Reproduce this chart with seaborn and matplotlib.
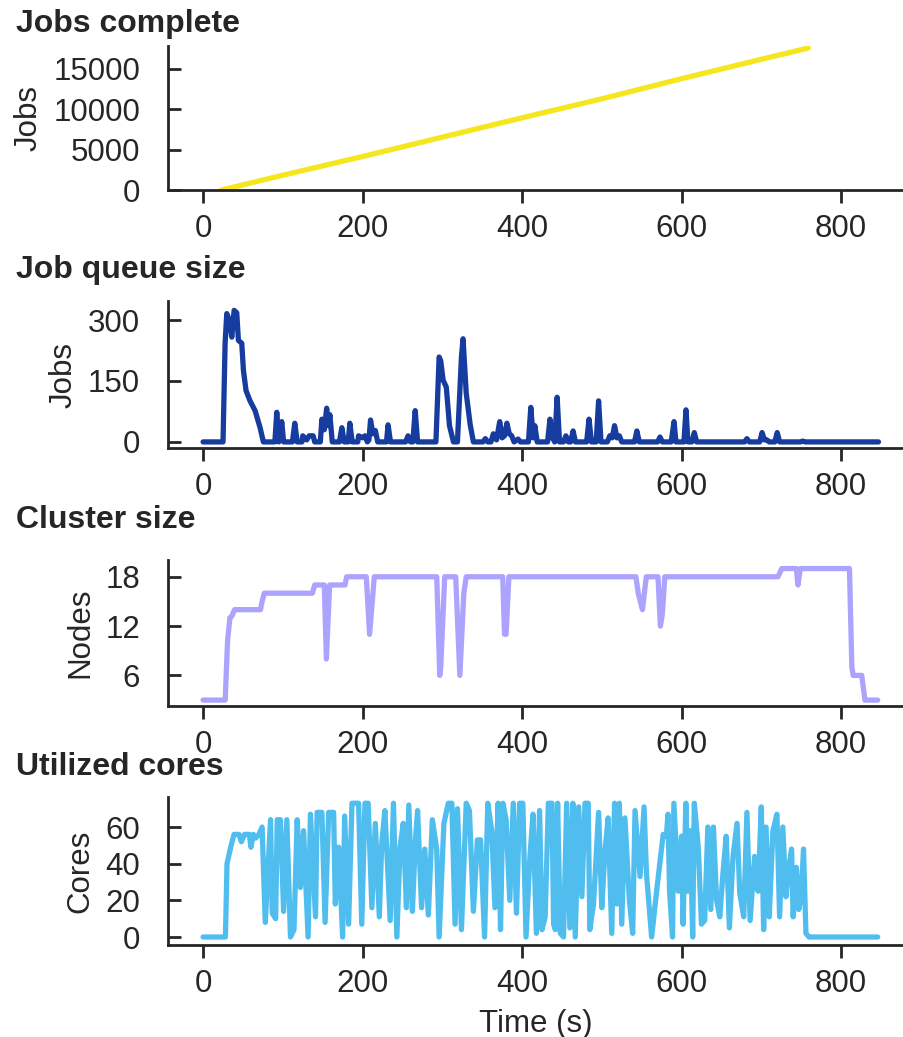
import numpy as np
import pandas as pd
import matplotlib
matplotlib.use("Agg")
import matplotlib.pyplot as plt
import seaborn as sns

# ---------------- data ----------------
jobs_t = [23, 100, 200, 300, 400, 500, 600, 700, 759]
jobs_v = [0, 1830, 4150, 6550, 8950, 11300, 13800, 16200, 17600]

queue_t = [0, 25, 27.6, 29.7, 33, 36, 38.9, 42.2, 44.3, 48.5, 50.6, 53.9, 58.9, 65.2, 71.5, 75.6,
           90, 92.4, 95, 97, 98.6, 101, 112, 115, 118, 124, 125, 130, 133, 138, 140,
           147, 149, 152, 155, 157, 159, 162, 171, 174, 177, 182, 184, 187,
           194, 195, 200, 203, 206, 208, 210, 213, 216, 219, 230, 232, 235,
           254, 257, 260, 263, 266, 269, 292, 296, 298, 301, 305, 309, 314,
           319, 324, 326, 330, 335, 339, 351, 354, 357, 361, 364, 368, 372, 375, 378,
           381, 384, 387, 390, 395, 398, 408, 411, 414, 416, 419, 432, 435, 438, 441,
           444, 447, 452, 455, 458, 461, 464, 467, 481, 484, 487, 493, 496, 499,
           507, 510, 513, 516, 519, 522, 525, 541, 544, 547, 570, 573, 576,
           587, 590.6, 593, 603, 605.6, 608, 613, 616, 619, 679, 682, 685,
           698, 701, 704, 707, 710, 717, 720, 723, 749, 752, 755, 847]
queue_v = [0, 0, 242, 316, 300, 258, 324, 318, 250, 243, 176, 126, 101, 77, 35, 0,
           0, 73, 0, 10, 50, 0, 0, 46, 0, 0, 15, 5, 15, 15, 0,
           0, 56, 30, 83, 40, 67, 0, 0, 35, 0, 0, 46, 0,
           0, 15, 10, 15, 0, 5, 54, 20, 28, 0, 0, 42, 0,
           0, 15, 0, 0, 77, 0, 0, 209, 200, 152, 135, 40, 0,
           0, 209, 254, 120, 42, 0, 0, 8, 0, 0, 20, 5, 50, 10, 15,
           46, 20, 15, 0, 7, 0, 0, 85, 10, 40, 0, 0, 56, 10, 0,
           110, 0, 0, 15, 0, 0, 27, 0, 0, 56, 0, 0, 101, 0,
           0, 15, 10, 40, 10, 15, 0, 0, 27, 0, 0, 12, 0,
           0, 50, 0, 0, 79, 0, 0, 23, 0, 0, 8, 0,
           0, 23, 5, 5, 0, 0, 23, 0, 0, 2, 0, 0]

cluster_t = [0, 27.7, 30.7, 33.6, 36, 39.5, 72, 74, 76.7, 137, 140, 152, 154.6, 158.7,
             178, 180, 204.7, 208.8, 214.7, 293, 296.8, 298, 303, 316.8, 322, 327, 330,
             375.8, 378, 380, 383.5, 542.8, 545.7, 551, 555.8, 570.5, 573.5, 576, 579,
             721, 725.7, 744, 746, 749, 810.6, 813.6, 815.3, 826, 830, 846]
cluster_v = [3, 3, 10.2, 13, 13.2, 14, 14, 15, 16, 16, 17, 17, 8, 17,
             17, 18, 18, 11, 18, 18, 6, 7, 18, 18, 6, 16, 18,
             18, 11, 11, 18, 18, 16, 14, 18, 18, 12, 13.5, 18,
             18, 19, 19, 17, 19, 19, 7, 6, 6, 3, 3]

cores_t = [0, 28, 30, 34.6, 38.75, 45, 48, 52, 58, 60, 63, 66, 70, 74, 78, 84.6, 86.7, 91, 93,
           97, 101, 105, 109.6, 114, 118, 122, 126, 131.7, 134.6, 141, 143, 149, 153, 157.5,
           163.75, 165.8, 170, 175, 177.5, 182.5, 186.7, 195, 199, 203, 207, 211.7, 216, 221,
           224, 228, 234.6, 238.75, 243, 247, 251, 255, 258, 262.5, 266, 269, 274, 278, 282.5,
           287.5, 293, 296, 302, 307.5, 312, 316, 319, 324, 330, 334, 339, 344, 348, 353, 357,
           362, 366, 370, 373, 376, 380, 384.6, 389, 393, 397, 401, 405, 409.6, 413.75, 418,
           422, 425, 429, 433, 437.5, 439.6, 441.7, 444.6, 448, 452, 456, 460, 463.75, 466.7,
           471, 475, 479, 483, 485, 489.6, 496, 500, 504, 508, 512.5, 516, 518.75, 522, 525,
           529, 534.6, 538.75, 541.7, 548, 553, 556, 562.5, 568.75, 577, 581, 583, 585, 588.75,
           590.4, 596, 600, 602, 605.4, 608, 611, 614, 616, 621, 625, 629, 633, 636.7, 640,
           644, 648, 652, 656, 660, 664.6, 669.6, 673, 678, 682, 686, 691.7, 696, 700, 703,
           706, 710, 714.6, 719.6, 723, 727, 731, 734.6, 738, 740, 744, 747, 750, 753, 756,
           760, 846]
cores_v = [0, 0, 40, 49, 56, 56, 52, 56, 56, 49, 56, 54, 56, 60, 8, 64, 13, 10, 64,
           64, 14, 64, 0, 4, 64, 27, 58, 0, 67, 11, 68, 68, 8, 68,
           68, 18, 49, 0, 66, 7, 73, 73, 7, 73, 73, 16, 62, 11,
           51, 69, 9, 73, 0, 49, 62, 16, 72, 14, 51, 69, 16, 48, 12,
           64, 48, 0, 62, 73, 73, 7, 70, 4, 73, 69, 14, 53, 53, 0, 73,
           58, 16, 73, 4, 73, 64, 20, 73, 13, 73, 73, 0, 42, 67, 2,
           69, 4, 11, 73, 73, 7, 4, 73, 2, 0, 73, 5, 73, 0,
           71, 22, 73, 73, 4, 18, 68, 16, 47, 65, 2, 73, 18, 73, 7,
           65, 20, 2, 69, 33, 71, 35, 0, 25, 56, 55, 67, 25, 0,
           73, 25, 55, 7, 73, 25, 58, 0, 73, 49, 7, 9, 60, 15, 60,
           20, 11, 35, 55, 5, 44, 62, 24, 11, 68, 9, 44, 25, 71, 4,
           60, 11, 58, 67, 11, 60, 22, 38, 48, 11, 38, 15, 22, 48, 2,
           0, 0]

titles = ["Jobs complete", "Job queue size", "Cluster size", "Utilized cores"]
ylabels = ["Jobs", "Jobs", "Nodes", "Cores"]
colors = ["#f5e61e", "#173c9f", "#aba3fd", "#4fbeef"]
yticks = [[0, 5000, 10000, 15000], [0, 150, 300], [6, 12, 18], [0, 20, 40, 60]]
xticks = [0, 200, 400, 600, 800]
series = [(jobs_t, jobs_v), (queue_t, queue_v), (cluster_t, cluster_v), (cores_t, cores_v)]

# ---------------- style ----------------
sns.set_theme(style="ticks")
TXT = "#262626"
plt.rcParams["font.family"] = ["Liberation Sans", "DejaVu Sans"]
plt.rcParams.update({
    "axes.edgecolor": TXT, "axes.labelcolor": TXT, "text.color": TXT,
    "xtick.color": TXT, "ytick.color": TXT,
    "axes.linewidth": 2.0, "xtick.major.width": 2.0, "ytick.major.width": 2.0,
    "xtick.major.size": 9.4, "ytick.major.size": 9.4,
    "xtick.direction": "out", "ytick.direction": "in",
    "xtick.labelsize": 22.5, "ytick.labelsize": 22.5, "axes.labelsize": 22.5,
    "xtick.major.pad": 8, "ytick.major.pad": 20,
    "axes.labelpad": 7,
})

W, H = 904, 1037
fig = plt.figure(figsize=(W / 100, H / 100), dpi=100)

# axes boxes in pixels: (top, bottom)
boxes = [(46, 190), (301, 448), (560, 706), (797, 945)]
ylims = [(0, 17850), (-15, 347), (2.28, 20.04), (-4.36, 76.4)]
title_base = [32, 278, 528, 775]
left_px, right_px = 168, 904

for i in range(4):
    top, bot = boxes[i]
    ax = fig.add_axes([left_px / W, 1 - bot / H, (right_px - left_px) / W, (bot - top) / H])
    t, v = series[i]
    df = pd.DataFrame({"t": t, "v": v})
    sns.lineplot(data=df, x="t", y="v", ax=ax, color=colors[i], linewidth=3.8,
                 estimator=None, sort=False, solid_capstyle="round", solid_joinstyle="round")
    ax.set_xlim(-44, 879)
    ax.set_ylim(*ylims[i])
    ax.set_xticks(xticks)
    ax.set_yticks(yticks[i])
    ax.set_ylabel(ylabels[i])
    ax.set_xlabel("Time (s)" if i == 3 else "")
    sns.despine(ax=ax)
    fig.text(16.5 / W, 1 - title_base[i] / H, titles[i], fontsize=23, fontweight="bold",
             ha="left", va="baseline", color=TXT)

fig.savefig("out.png", dpi=100, facecolor="white")
